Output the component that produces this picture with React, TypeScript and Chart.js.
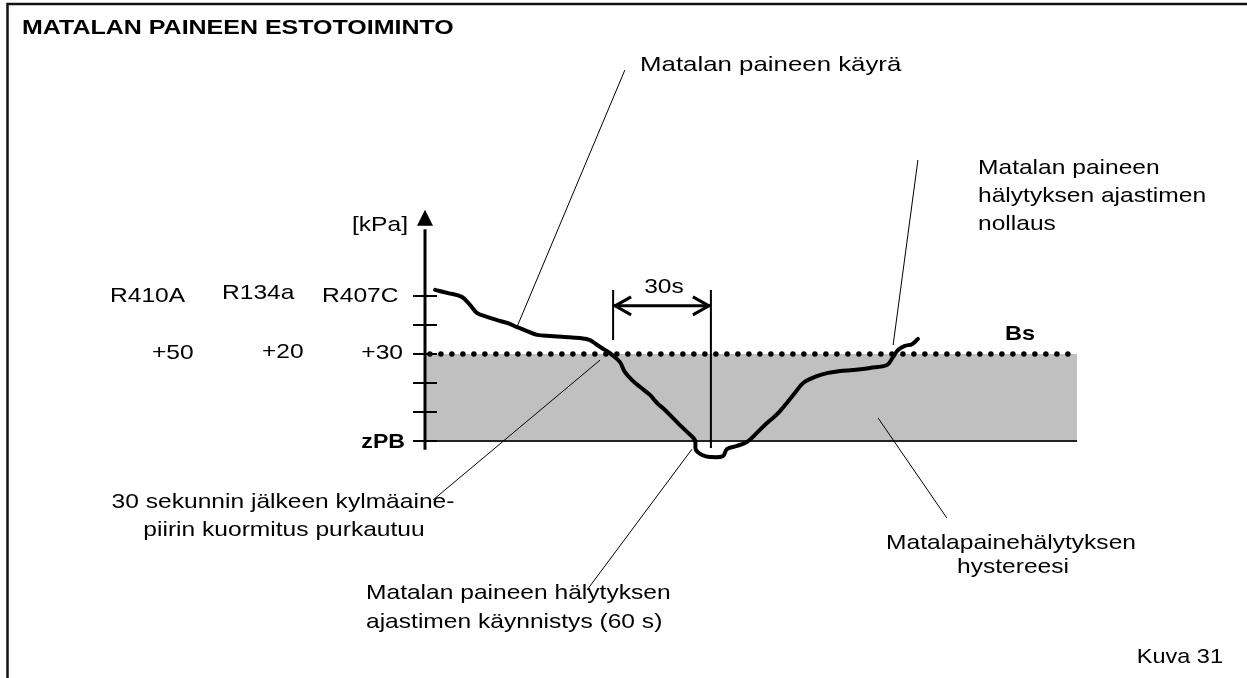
import React, { useEffect, useRef } from "react";
import { Chart, registerables } from "chart.js";
Chart.register(...registerables);

// Pressure curve (x: seconds from axis, y: pressure in tick units, zPB = 0)
const curveX = [3.1, 7.1, 11.3, 13.8, 16.0, 19.0, 22.1, 25.2, 28.2, 31.3, 34.4, 38.3, 42.9, 47.5, 50.6, 52.8, 55.2, 57.4, 59.8, 61.3, 63.5, 66.0, 69.0, 71.2, 73.6, 76.1, 78.2, 80.7, 82.8, 83.1, 85.0, 87.4, 91.4, 92.6, 95.7, 98.8, 101.8, 104.9, 107.4, 108.9, 111.0, 113.5, 116.0, 119.6, 123.3, 127.3, 131.3, 136.5, 141.7, 143.6, 145.1, 147.2, 149.4, 151.2];
const curveY = [5.21, 5.10, 4.97, 4.69, 4.41, 4.28, 4.17, 4.07, 3.93, 3.79, 3.66, 3.62, 3.59, 3.55, 3.48, 3.31, 3.14, 2.97, 2.72, 2.38, 2.10, 1.86, 1.59, 1.31, 1.07, 0.79, 0.55, 0.28, 0.03, -0.31, -0.48, -0.55, -0.52, -0.28, -0.17, -0.03, 0.28, 0.62, 0.86, 1.03, 1.31, 1.66, 2.00, 2.21, 2.34, 2.41, 2.45, 2.52, 2.62, 2.90, 3.14, 3.28, 3.34, 3.52];

const yTicks = [0, 1, 2, 3, 4, 5];
const bsLevel = 3; // +30 / Bs
const zpbLevel = 0; // zPB
const bandStart = 0;
const bandEnd = 200;
const dotStart = 1.5;
const dotEnd = 199.4;
const timerStart = 57.7;
const timerEnd = 87.7;
const timerTop = 5.21;
const timerStartBottom = 3.48;
const timerEndBottom = -0.24;
const arrowLevel = 4.66;

const refrigerants = ["R410A", "R134a", "R407C"];
const refOffsets = ["+50", "+20", "+30"];

// leader lines [x1, y1, x2, y2] in data units
const leaders = [
  [28.2, 3.93, 61.3, 12.79],
  [143.6, 3.31, 151.2, 9.69],
  [53.7, 2.79, 2.5, -2.03],
  [81.9, -0.28, 49.7, -5.14],
  [139.0, 0.79, 160.1, -2.66],
];

const FONT = '"Liberation Sans", Arial, Helvetica, sans-serif';

function txt(ctx: CanvasRenderingContext2D, s: string, x: number, y: number, align: CanvasTextAlign = "left", bold = false, size = 21, sx = 1.17) {
  ctx.save();
  ctx.font = `${bold ? "bold " : ""}${size}px ${FONT}`;
  ctx.fillStyle = "#000";
  ctx.textBaseline = "middle";
  ctx.textAlign = align;
  ctx.translate(x, y);
  ctx.scale(sx, 1);
  ctx.fillText(s, 0, 0);
  ctx.restore();
}

const decor = {
  id: "decor",
  beforeDraw(chart: any) {
    const ctx = chart.ctx as CanvasRenderingContext2D;
    ctx.save();
    ctx.fillStyle = "#fff";
    ctx.fillRect(0, 0, chart.width, chart.height);
    ctx.strokeStyle = "#111";
    ctx.lineWidth = 2.5;
    ctx.beginPath();
    ctx.moveTo(7.5, 678);
    ctx.lineTo(7.5, 4);
    ctx.lineTo(1247, 4);
    ctx.stroke();
    ctx.restore();
  },
  afterDatasetsDraw(chart: any) {
    const ctx = chart.ctx as CanvasRenderingContext2D;
    const xs = chart.scales.x;
    const ys = chart.scales.y;
    const ax = xs.getPixelForValue(0);
    ctx.save();
    // y axis
    ctx.strokeStyle = "#000";
    ctx.lineWidth = 3;
    ctx.beginPath();
    ctx.moveTo(ax, ys.getPixelForValue(-0.3));
    ctx.lineTo(ax, ys.getPixelForValue(7.3));
    ctx.stroke();
    const tip = ys.getPixelForValue(7.97);
    ctx.fillStyle = "#000";
    ctx.beginPath();
    ctx.moveTo(ax, tip);
    ctx.lineTo(ax - 8, tip + 16);
    ctx.lineTo(ax + 8, tip + 16);
    ctx.closePath();
    ctx.fill();
    ctx.lineWidth = 2;
    for (const t of yTicks) {
      const py = ys.getPixelForValue(t);
      ctx.beginPath();
      ctx.moveTo(ax - 12, py);
      ctx.lineTo(ax + 12, py);
      ctx.stroke();
    }
    // 30s arrowheads
    const ay = ys.getPixelForValue(arrowLevel);
    const l = xs.getPixelForValue(timerStart) + 2;
    const r = xs.getPixelForValue(timerEnd) - 2;
    ctx.lineWidth = 3;
    ctx.lineJoin = "miter";
    ctx.beginPath();
    ctx.moveTo(l + 16, ay - 9);
    ctx.lineTo(l, ay);
    ctx.lineTo(l + 16, ay + 9);
    ctx.moveTo(r - 16, ay - 9);
    ctx.lineTo(r, ay);
    ctx.lineTo(r - 16, ay + 9);
    ctx.stroke();
    ctx.restore();

    // texts
    txt(ctx, "MATALAN PAINEEN ESTOTOIMINTO", 22, 28, "left", true, 21, 1.19);
    txt(ctx, "Matalan paineen käyrä", 640, 65, "left", false, 21, 1.23);
    txt(ctx, "[kPa]", 408, 225, "right");
    const y5 = ys.getPixelForValue(5);
    const y3 = ys.getPixelForValue(bsLevel);
    const y0 = ys.getPixelForValue(zpbLevel);
    txt(ctx, refrigerants[0], 110, y5);
    txt(ctx, refrigerants[1], 222, y5 - 3);
    txt(ctx, refrigerants[2], 322, y5);
    txt(ctx, refOffsets[0], 152, y3 - 1);
    txt(ctx, refOffsets[1], 262, y3 - 2);
    txt(ctx, refOffsets[2], 403, y3 - 1, "right");
    txt(ctx, "zPB", 405, y0 + 1, "right", true, 21, 1.1);
    txt(ctx, "30s", (l + r) / 2 + 2, 287, "center");
    txt(ctx, "Bs", 1005, 334, "left", true, 21, 1.12);
    txt(ctx, "Matalan paineen", 978, 168);
    txt(ctx, "hälytyksen ajastimen", 978, 196);
    txt(ctx, "nollaus", 978, 224);
    txt(ctx, "30 sekunnin jälkeen kylmäaine-", 283, 502, "center");
    txt(ctx, "piirin kuormitus purkautuu", 284, 530, "center");
    txt(ctx, "Matalan paineen hälytyksen", 366, 593);
    txt(ctx, "ajastimen käynnistys (60 s)", 366, 622);
    txt(ctx, "Matalapainehälytyksen", 1011, 543, "center");
    txt(ctx, "hystereesi", 1013, 567, "center");
    txt(ctx, "Kuva 31", 1223, 657, "right", false, 21, 1.12);
  },
};

export default function App() {
  const ref = useRef<HTMLCanvasElement>(null);
  useEffect(() => {
    if (!ref.current) return;
    const line = (data: any[], extra: any) => ({
      data,
      borderColor: "#000",
      borderWidth: 1,
      pointRadius: 0,
      fill: false,
      tension: 0,
      clip: false,
      ...extra,
    });
    const datasets: any[] = [
      line(curveX.map((x, i) => ({ x, y: curveY[i] })), { borderWidth: 4, tension: 0.35, borderCapStyle: "round", borderJoinStyle: "round", order: 0 }),
      line([{ x: timerStart, y: timerTop }, { x: timerStart, y: timerStartBottom }], { borderWidth: 2, order: 1 }),
      line([{ x: timerEnd, y: timerTop }, { x: timerEnd, y: timerEndBottom }], { borderWidth: 2, order: 1 }),
      line([{ x: timerStart, y: arrowLevel }, { x: timerEnd, y: arrowLevel }], { borderWidth: 3, order: 1 }),
      ...leaders.map((p) => line([{ x: p[0], y: p[1] }, { x: p[2], y: p[3] }], { borderWidth: 1, order: 1 })),
      line([{ x: dotStart, y: bsLevel }, { x: dotEnd, y: bsLevel }], { borderWidth: 5.5, borderDash: [0, 11], borderCapStyle: "round", order: 2 }),
      line([{ x: -3.7, y: zpbLevel }, { x: bandEnd, y: zpbLevel }], { borderWidth: 2, borderColor: "#222", order: 3 }),
      line([{ x: bandStart, y: bsLevel }, { x: bandEnd, y: bsLevel }], { borderWidth: 0, borderColor: "rgba(0,0,0,0)", backgroundColor: "#c0c0c0", fill: { value: zpbLevel }, order: 4 }),
    ];
    const chart = new Chart(ref.current, {
      type: "line",
      data: { datasets },
      options: {
        animation: false,
        responsive: false,
        devicePixelRatio: 1,
        events: [],
        layout: { padding: { left: 425, right: 170, top: 209, bottom: 222.5 } },
        plugins: { legend: { display: false }, tooltip: { enabled: false }, title: { display: false } },
        scales: {
          x: { type: "linear", min: 0, max: 200, display: false },
          y: { type: "linear", min: -0.5, max: 8, display: false },
        },
      },
      plugins: [decor],
    });
    return () => chart.destroy();
  }, []);
  return (
    <div style={{ position: "absolute", left: 0, top: 0, width: 1247, height: 678, background: "#fff" }}>
      <canvas ref={ref} width={1247} height={678} style={{ display: "block" }} />
    </div>
  );
}
